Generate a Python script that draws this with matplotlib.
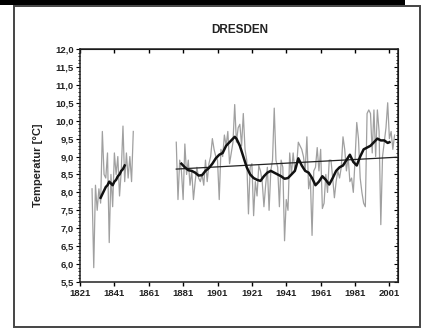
import matplotlib
matplotlib.use("Agg")
import matplotlib.pyplot as plt
from matplotlib.ticker import MultipleLocator, FuncFormatter
from matplotlib.patches import Rectangle

plt.rcParams["font.family"] = ["Liberation Sans", "DejaVu Sans"]

# ---- data ----
years_early = list(range(1828, 1853))
temp_early = [8.1, 5.9, 8.2, 7.5, 8.1, 7.7, 9.7, 8.5, 8.4, 9.1, 6.6, 8.5, 7.6,
              9.1, 8.5, 9.0, 7.9, 8.6, 9.85, 8.3, 9.1, 8.4, 9.0, 8.3, 9.7]

smooth_early_years = list(range(1833, 1848))
smooth_early = [7.85, 7.95, 8.05, 8.15, 8.2, 8.3, 8.25, 8.2, 8.3, 8.35, 8.45,
                8.5, 8.6, 8.65, 8.75]

years_main = list(range(1877, 2005))
temp_main = [9.4, 7.8, 8.9, 8.6, 7.8, 9.35, 8.5, 8.9, 8.2, 8.6,
             7.8, 8.3, 8.7, 8.4, 8.3, 8.5, 8.2, 8.9, 8.3, 8.8,
             9.0, 9.5, 9.2, 9.0, 8.9, 7.8, 9.2, 9.0, 9.6, 9.3,
             9.7, 8.8, 9.1, 9.4, 10.45, 9.4, 9.8, 9.9, 9.3, 10.2,
             9.2, 8.9, 7.4, 8.7, 8.8, 7.35, 8.3, 7.9, 8.75, 8.6,
             8.3, 7.6, 8.2, 8.7, 7.5, 8.6, 8.9, 10.35, 8.9, 8.7,
             7.6, 8.9, 8.7, 6.65, 7.8, 7.5, 9.1, 8.5, 9.1, 8.6,
             8.7, 9.4, 9.3, 9.2, 9.0, 8.6, 9.55, 8.1, 8.4, 6.8,
             8.6, 8.7, 9.25, 8.6, 9.2, 7.55, 7.7, 8.5, 8.0, 8.9,
             8.9, 8.4, 7.85, 8.3, 8.6, 8.4, 8.7, 9.55, 9.2, 8.6,
             9.0, 8.3, 8.4, 8.0, 8.9, 9.95, 9.5, 8.4, 8.0, 7.7,
             7.6, 10.2, 10.3, 10.2, 9.1, 10.3, 9.0, 10.3, 9.7, 7.1,
             9.0, 9.4, 9.8, 10.5, 9.5, 9.7, 9.2, 9.6]

smooth_main_years = [1880, 1882, 1884, 1886, 1888, 1890, 1892, 1894, 1896, 1898,
                     1900, 1902, 1904, 1906, 1908, 1910, 1911, 1912, 1914, 1916,
                     1918, 1920, 1922, 1924, 1926, 1928, 1930, 1932, 1934, 1936,
                     1938, 1940, 1942, 1944, 1946, 1948, 1950, 1952, 1954, 1956,
                     1958, 1960, 1962, 1964, 1966, 1968, 1970, 1972, 1974, 1976,
                     1978, 1980, 1982, 1984, 1986, 1988, 1990, 1992, 1994, 1996,
                     1998, 2000, 2001]
smooth_main = [8.8, 8.7, 8.62, 8.6, 8.55, 8.47, 8.48, 8.6, 8.68, 8.8,
               8.95, 9.05, 9.1, 9.3, 9.4, 9.5, 9.55, 9.5, 9.3, 9.0,
               8.7, 8.5, 8.4, 8.35, 8.32, 8.45, 8.55, 8.6, 8.55, 8.5,
               8.45, 8.38, 8.4, 8.5, 8.6, 8.95, 8.75, 8.6, 8.55, 8.4,
               8.2, 8.3, 8.45, 8.35, 8.22, 8.4, 8.6, 8.7, 8.75, 8.9,
               9.05, 8.85, 8.75, 9.0, 9.2, 9.25, 9.3, 9.4, 9.5, 9.45,
               9.45, 9.38, 9.4]

trend_years = [1877, 2005]
trend_vals = [8.65, 8.98]

x_ticks = [1821, 1841, 1861, 1881, 1901, 1921, 1941, 1961, 1981, 2001]

# ---- figure ----
fig = plt.figure(figsize=(4.27, 3.29), dpi=100)
fig.patch.set_facecolor("white")

# outer frame and top black bar
fig.add_artist(Rectangle((14/427, 1 - 327/329), (420-14)/427, (327-6)/329,
                         transform=fig.transFigure, fill=False,
                         edgecolor="#444444", linewidth=1.4))
fig.add_artist(Rectangle((0, 1 - 5/329), 405/427, 5/329,
                         transform=fig.transFigure, facecolor="black",
                         edgecolor="none"))

ax = fig.add_axes([80/427, 1 - 282/329, (398-80)/427, (282-49)/329])

gray = "#a0a0a0"
ax.plot(years_early, temp_early, color=gray, lw=0.9)
ax.plot(years_main, temp_main, color=gray, lw=0.9)
ax.plot(trend_years, trend_vals, color="#222222", lw=0.9)
ax.plot(smooth_early_years, smooth_early, color="#111111", lw=1.8)
ax.plot(smooth_main_years, smooth_main, color="#111111", lw=1.8)

ax.set_xlim(1821, 2006)
ax.set_ylim(5.5, 12.0)
ax.set_xticks(x_ticks)
ax.yaxis.set_major_locator(MultipleLocator(0.5))
ax.yaxis.set_minor_locator(MultipleLocator(0.1))
ax.yaxis.set_major_formatter(FuncFormatter(lambda v, p: f"{v:.1f}".replace(".", ",")))

for s in ax.spines.values():
    s.set_linewidth(1.1)
    s.set_color("#222222")

ax.tick_params(axis="x", which="major", direction="out", length=3, width=1,
               labelsize=6.8, pad=2)
ax.tick_params(axis="y", which="major", direction="out", length=3, width=0.8,
               labelsize=6.8, pad=1.5)
ax.tick_params(axis="y", which="minor", direction="out", length=1.5, width=0.6)
for lab in ax.get_xticklabels() + ax.get_yticklabels():
    lab.set_fontweight("bold")
    lab.set_color("#222222")

# top and right inward ticks
sec_x = ax.secondary_xaxis("top")
sec_x.set_xticks(x_ticks)
sec_x.tick_params(direction="in", length=3, width=1, labeltop=False)
sec_y = ax.secondary_yaxis("right")
sec_y.yaxis.set_major_locator(MultipleLocator(0.5))
sec_y.yaxis.set_minor_locator(MultipleLocator(0.1))
sec_y.tick_params(which="major", direction="in", length=3, width=0.8, labelright=False)
sec_y.tick_params(which="minor", direction="in", length=1.5, width=0.6)

ax.set_ylabel("Temperatur [°C]", fontsize=8, fontweight="bold", labelpad=9,
              color="#222222")
fig.text(240/427, 1 - 30/329, "DRESDEN", ha="center", va="center",
         fontsize=8.5, fontweight="bold", color="#222222")

fig.savefig("out.png", dpi=100, facecolor="white")
